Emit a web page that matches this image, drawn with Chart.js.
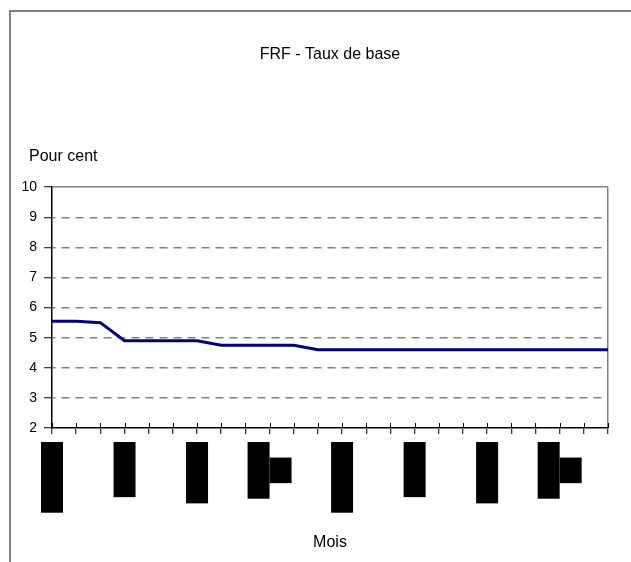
<!DOCTYPE html>
<html>
<head>
<meta charset="utf-8">
<script src="https://cdn.jsdelivr.net/npm/chart.js@4"></script>
<style>
  html, body { margin: 0; padding: 0; background: #fff; overflow: hidden; }
  #wrap { position: relative; width: 631px; height: 562px; }
  #frame { position: absolute; left: 9px; top: 10px; width: 700px; height: 700px; border: 2px solid #808080; }
  canvas { position: absolute; left: 0; top: 0; }
</style>
</head>
<body>
<div id="wrap">
  <div id="frame"></div>
  <canvas id="rateChart" width="631" height="562"></canvas>
</div>
<script>
// Months on the x axis (Jan 1998 - Dec 1999)
const categories = [
  "janv. 98", "févr. 98", "mars 98", "avr. 98", "mai 98", "juin 98",
  "juil. 98", "août 98", "sept. 98", "oct. 98", "nov. 98", "déc. 98",
  "janv. 99", "févr. 99", "mars 99", "avr. 99", "mai 99", "juin 99",
  "juil. 99", "août 99", "sept. 99", "oct. 99", "nov. 99", "déc. 99",
];

// Base rate, per cent
const rateValues = [
  5.55, 5.55, 5.5, 4.9, 4.9, 4.9, 4.9, 4.75, 4.75, 4.75, 4.75, 4.6,
  4.6, 4.6, 4.6, 4.6, 4.6, 4.6, 4.6, 4.6, 4.6, 4.6, 4.6, 4.6,
];

// Labels shown under every third month
const tickLabels = [
  "janvier 98", "avril 98", "juillet 98", ["octobre", "98"],
  "janvier 99", "avril 99", "juillet 99", ["octobre", "99"],
];
const tickStep = 3;

const yMin = 2;
const yMax = 10;
const yUnit = "Pour cent";

const FONT = "'Liberation Sans', Arial, sans-serif";

// Unit label above the y axis, month labels (rotated, on dark blocks)
// and the upper half of the x tick marks
const extraText = {
  id: "extraText",
  afterDraw(chart) {
    const ctx = chart.ctx;
    const xs = chart.scales.x;
    const area = chart.chartArea;

    ctx.save();
    ctx.fillStyle = "#000";
    ctx.font = "16px " + FONT;
    ctx.textAlign = "left";
    ctx.textBaseline = "middle";
    ctx.fillText(yUnit, area.left - 23, area.top - 31);

    ctx.strokeStyle = "#000";
    ctx.lineWidth = 1;
    for (let i = 0; i < categories.length; i++) {
      const x = Math.round(xs.getPixelForTick(i)) + 0.5;
      ctx.beginPath();
      ctx.moveTo(x, area.bottom - 5);
      ctx.lineTo(x, area.bottom);
      ctx.stroke();
    }

    ctx.font = "14px " + FONT;
    const thick = 22;
    const pad = 5;
    const top = xs.top + 14;
    tickLabels.forEach(function (label, j) {
      const lines = Array.isArray(label) ? label : [label];
      const x = xs.getPixelForTick(j * tickStep);
      const first = ctx.measureText(lines[0]).width + pad * 2;
      lines.forEach(function (line, k) {
        const len = ctx.measureText(line).width + pad * 2;
        const cx = x - (thick * lines.length) / 2 + thick * (k + 0.5);
        // first line hangs from the top, the others are centred on it
        const end = k === 0 ? 0 : -(first - len) / 2;
        ctx.save();
        ctx.translate(cx, top);
        ctx.rotate(-Math.PI / 2);
        ctx.fillStyle = "#000";
        ctx.fillRect(end - len, -thick / 2, len, thick);
        ctx.textAlign = "right";
        ctx.fillText(line, end - pad, 0);
        ctx.restore();
      });
    });
    ctx.restore();
  },
};

const ctx = document.getElementById("rateChart").getContext("2d");

new Chart(ctx, {
  type: "line",
  data: {
    labels: categories,
    datasets: [
      {
        label: "Taux de base",
        data: rateValues,
        borderColor: "#000080",
        borderWidth: 3,
        pointRadius: 0,
        tension: 0,
        fill: false,
      },
    ],
  },
  options: {
    responsive: false,
    animation: false,
    layout: {
      padding: { left: 9, right: 23, top: 0, bottom: 0 },
    },
    plugins: {
      legend: { display: false },
      tooltip: { enabled: false },
      title: {
        display: true,
        text: "FRF - Taux de base",
        fullSize: false,
        color: "#000",
        font: { family: FONT, size: 16, weight: "normal" },
        padding: { top: 45, bottom: 123 },
      },
    },
    scales: {
      x: {
        type: "category",
        offset: false,
        afterFit: function (scale) {
          scale.height = 134;
        },
        grid: {
          offset: false,
          drawOnChartArea: true,
          color: function (c) {
            return c.index === categories.length - 1 ? "#808080" : "rgba(0,0,0,0)";
          },
          lineWidth: 1.5,
          tickColor: "#000",
          tickLength: 6,
          tickWidth: 1,
        },
        border: { color: "#000", width: 1.5 },
        ticks: { display: false, autoSkip: false },
        title: {
          display: true,
          text: "Mois",
          color: "#000",
          font: { family: FONT, size: 16 },
          padding: { top: 0, bottom: 10 },
        },
      },
      y: {
        min: yMin,
        max: yMax,
        afterFit: function (scale) {
          scale.width = 43;
        },
        grid: {
          color: function (c) {
            return c.tick.value === yMin ? "rgba(0,0,0,0)" : "#808080";
          },
          lineWidth: 1.5,
          tickColor: "#000",
          tickLength: 8,
          tickWidth: 1,
        },
        border: {
          color: "#000",
          width: 1.5,
          dash: function (c) {
            return c.tick && c.tick.value === yMax ? [] : [8, 6];
          },
          dashOffset: 5,
        },
        ticks: {
          stepSize: 1,
          color: "#000",
          padding: 7,
          font: { family: FONT, size: 14 },
        },
      },
    },
  },
  plugins: [extraText],
});
</script>
</body>
</html>
